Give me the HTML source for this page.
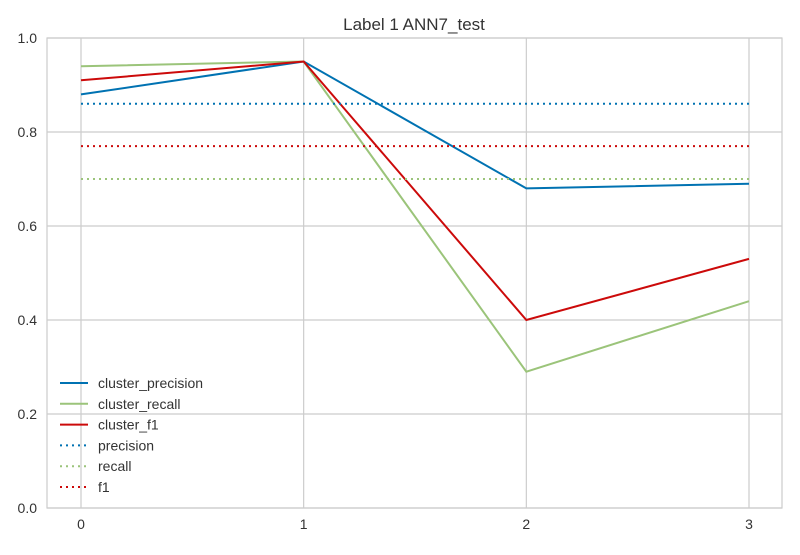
<!DOCTYPE html>
<html><head><meta charset="utf-8"><style>
body{margin:0;background:#fff;}
svg text{font-family:"Liberation Sans",sans-serif;}
</style></head><body>
<svg id="chart" width="800" height="550" xmlns="http://www.w3.org/2000/svg">
<rect width="800" height="550" fill="#fff"/>
<text x="414" y="30" font-size="17" text-anchor="middle" fill="#333">Label 1 ANN7_test</text>
<g id="grid"></g>
<rect x="47" y="38" width="735" height="470" fill="none" stroke="#ccc" stroke-width="1.2"/>
<g id="series"></g>
<g id="legend"></g>
</svg>
<script>
const categories=[0,1,2,3];
const yTicks=[0,0.2,0.4,0.6,0.8,1.0];
const clusterPrecision=[0.88,0.95,0.68,0.69];
const clusterRecall=[0.94,0.95,0.29,0.44];
const clusterF1=[0.91,0.95,0.40,0.53];
const precisionAvg=0.86;
const recallAvg=0.70;
const f1Avg=0.77;

const NS="http://www.w3.org/2000/svg";
const X0=81,X1=749,Y0=508,Y1=38;
const xs=v=>X0+(v-categories[0])*(X1-X0)/(categories[categories.length-1]-categories[0]);
const ys=v=>Y0-(v-0)*(Y0-Y1)/1.0;
function mk(t,a,p){const e=document.createElementNS(NS,t);for(const k in a)e.setAttribute(k,a[k]);p.appendChild(e);return e;}
const grid=document.getElementById('grid');
categories.forEach(c=>{
 const l=mk('line',{x1:xs(c),x2:xs(c),y1:Y1,y2:Y0,stroke:'#ccc','stroke-width':1.2},grid);
 
 
 const t=mk('text',{x:xs(c),y:529,'font-size':14,'text-anchor':'middle',fill:'#333'},grid);
 t.textContent=String(c);
 
 
});
yTicks.forEach(v=>{
 const l=mk('line',{x1:47,x2:782,y1:ys(v),y2:ys(v),stroke:'#ccc','stroke-width':1.2},grid);
 
 
 const t=mk('text',{x:37,y:ys(v)+5,'font-size':14,'text-anchor':'end',fill:'#333'},grid);
 t.textContent=v.toFixed(1);
 
 
});
const S=document.getElementById('series');
const series=[
 {name:'cluster_precision',vals:clusterPrecision,color:'#0072b2',dash:null},
 {name:'cluster_recall',vals:clusterRecall,color:'#9bc47a',dash:null},
 {name:'cluster_f1',vals:clusterF1,color:'#cc0a0a',dash:null},
 {name:'precision',vals:categories.map(()=>precisionAvg),color:'#0072b2',dash:'2,4'},
 {name:'recall',vals:categories.map(()=>recallAvg),color:'#9bc47a',dash:'2,4'},
 {name:'f1',vals:categories.map(()=>f1Avg),color:'#cc0a0a',dash:'2,4'}
];
const L=document.getElementById('legend');
series.forEach((s,i)=>{
 const pts=s.vals.map((v,j)=>xs(categories[j])+','+ys(v)).join(' ');
 const a={points:pts,fill:'none',stroke:s.color,'stroke-width':2};
 if(s.dash)a['stroke-dasharray']=s.dash;
 const p=mk('polyline',a,S);
 
 
 const y=383+i*20.8;
 const la={x1:60,x2:88,y1:y,y2:y,stroke:s.color,'stroke-width':2};
 if(s.dash)la['stroke-dasharray']=s.dash;
 const ll=mk('line',la,L);
 
 
 const t=mk('text',{x:98,y:y+5,'font-size':14,fill:'#333'},L);
 t.textContent=s.name;
 
 
});
</script>
</body></html>
